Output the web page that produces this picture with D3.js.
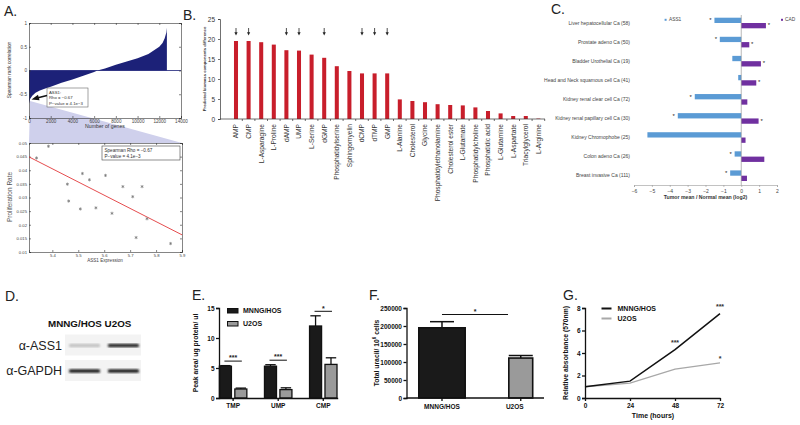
<!DOCTYPE html>
<html>
<head>
<meta charset="utf-8">
<script src="https://cdn.jsdelivr.net/npm/d3@7"></script>
<style>
  body { margin: 0; background: #fff; }
  text { font-family: "Liberation Sans", Arial, sans-serif; }
</style>
</head>
<body>
<svg id="fig" width="800" height="425"></svg>
<script>
//-- A (top): sorted spearman correlations across genes
const corrGenes = [0, 100, 300, 600, 1000, 1500, 2000, 3000, 4000, 5000, 6000, 6300, 7000, 8000, 9000, 10000, 11000, 12000, 12300, 12500, 12650, 12700];
const corrRho = [-0.7, -0.6, -0.53, -0.47, -0.42, -0.38, -0.34, -0.26, -0.19, -0.11, -0.03, 0, 0.04, 0.12, 0.19, 0.26, 0.35, 0.5, 0.58, 0.68, 0.8, 0.9];
//-- A (bottom): ASS1 expression vs proliferation
const ass1Expr = [5.339, 5.385, 5.458, 5.463, 5.508, 5.516, 5.543, 5.568, 5.605, 5.63, 5.672, 5.71, 5.723, 5.746, 5.765, 5.856];
const prolifRate = [0.0445, 0.0488, 0.0349, 0.0287, 0.0258, 0.0388, 0.0365, 0.0262, 0.0381, 0.0242, 0.034, 0.0303, 0.0153, 0.034, 0.0222, 0.0131];
const fitX = [5.31, 5.9];
const fitY = [0.0449, 0.0163];
//-- B
const metabolites = ["AMP", "CMP", "L-Asparagine", "L-Proline", "dAMP", "UMP", "L-Serine", "dGMP", "Phosphatidylserine", "Sphingomyelin", "dCMP", "dTMP", "GMP", "L-Alanine", "Cholesterol", "Glycine", "Phosphatidylethanolamine", "Cholesterol ester", "L-Glutamate", "Phosphatidylcholine", "Phosphatidic acid", "L-Glutamine", "L-Aspartate", "Triacylglycerol", "L-Arginine"];
const biomassDiff = [19.5, 19.5, 19.2, 18.6, 17.2, 17.1, 16.1, 15.3, 13.2, 12.0, 11.4, 11.4, 11.4, 4.9, 4.5, 4.2, 3.7, 3.5, 3.4, 2.9, 2.0, 1.4, 0.75, 0.75, 0.1];
const arrowed = ["AMP", "CMP", "dAMP", "UMP", "dGMP", "dCMP", "dTMP", "GMP"];
//-- C
const tumors = ["Liver hepatocellular Ca (58)", "Prostate adeno Ca (50)", "Bladder Urothelial Ca (19)", "Head and Neck squamous cell Ca (41)", "Kidney renal clear cell Ca (72)", "Kidney renal papillary cell Ca (30)", "Kidney Chromophobe (25)", "Colon adeno Ca (26)", "Breast invasive Ca (111)"];
const ass1Log2 = [-1.5, -1.2, -0.5, -0.17, -2.6, -3.55, -5.25, -0.37, -0.62];
const cadLog2 = [1.38, 0.45, 1.1, 0.84, 0.34, 0.97, 0.24, 1.29, 0.32];
const ass1Sig = [1, 1, 0, 0, 1, 1, 0, 1, 1];
const cadSig = [1, 1, 1, 1, 0, 1, 0, 0, 0];
//-- D: western blot band intensity (0..1)
const blotLanes = ["MNNG/HOS", "U2OS"];
const blotRows = ["α-ASS1", "α-GAPDH"];
const bandLevel = [[0.25, 0.9], [0.95, 0.95]];
//-- E
const nucleotides = ["TMP", "UMP", "CMP"];
const cellLines = ["MNNG/HOS", "U2OS"];
const eMnng = [5.3, 5.3, 12.0];
const eMnngErr = [0.1, 0.25, 1.7];
const eU2os = [1.5, 1.4, 5.6];
const eU2osErr = [0.15, 0.3, 1.1];
const eSig = ["***", "***", "*"];
//-- F
const fUracil = [195000, 111000];
const fErr = [17000, 7000];
//-- G
const hours = [0, 24, 48, 72];
const gMnng = [1.0, 1.5, 4.3, 7.5];
const gU2os = [1.0, 1.33, 2.57, 3.12];
const gMnngSig = ["", "", "***", "***"];
const gU2osSig = ["", "", "", "*"];

const svg = d3.select("#fig");
const letter = (t, x, y) => svg.append("text").attr("x", x).attr("y", y)
  .attr("font-size", 14).attr("fill", "#222").text(t);

//-- style helper for thin matlab-like axes
function thinAxis(g, size) {
  g.selectAll("path, line").attr("stroke", "#333").attr("stroke-width", 0.6);
  g.selectAll("text").attr("font-size", size).attr("fill", "#444");
}
function boldAxis(g) {
  g.selectAll("path, line").attr("stroke", "#111").attr("stroke-width", 1.3);
  g.selectAll("text").attr("font-size", 6.5).attr("font-weight", "bold").attr("fill", "#111");
}

//==================== A ====================
letter("A.", 4, 16);
const xA = d3.scaleLinear().domain([0, 14000]).range([29, 181]);
const yA = d3.scaleLinear().domain([-1, 1]).range([118, 23]);
const xS = d3.scaleLinear().domain([5.31, 5.9]).range([29, 182]);
const yS = d3.scaleLinear().domain([0.01, 0.05]).range([252, 143]);

svg.append("rect").attr("x", 29).attr("y", 23).attr("width", 152).attr("height", 95).attr("fill", "#fff");
//-- zoom wedge
svg.append("path")
  .attr("d", `M${xA(100)},${yA(-0.64)} L${xS(5.31)},${yS(0.05)} L${xS(5.9)},${yS(0.05)} Z`)
  .attr("fill", "#cfd0ec");
svg.append("path")
  .datum(d3.zip(corrGenes, corrRho))
  .attr("d", d3.area().x(d => xA(d[0])).y0(yA(0)).y1(d => yA(d[1])))
  .attr("fill", "#1c2178");
svg.append("line").attr("x1", xA(0)).attr("x2", xA(14000)).attr("y1", yA(0)).attr("y2", yA(0))
  .attr("stroke", "#1c2178").attr("stroke-width", 0.8);

const ticksA = d3.range(0, 14001, 2000);
svg.append("g").attr("transform", "translate(0,118)")
  .call(d3.axisBottom(xA).tickValues(ticksA).tickSize(-2).tickPadding(2).tickFormat(d3.format("d")))
  .call(g => thinAxis(g, 4.6));
svg.append("g").attr("transform", "translate(0,23)")
  .call(d3.axisTop(xA).tickValues(ticksA).tickSize(-2).tickFormat(""))
  .call(g => thinAxis(g, 4.6));
svg.append("g").attr("transform", "translate(29,0)")
  .call(d3.axisLeft(yA).tickValues([-1, -0.5, 0, 0.5, 1]).tickSize(-2).tickPadding(2).tickFormat(d => d))
  .call(g => thinAxis(g, 4.6));
svg.append("g").attr("transform", "translate(181,0)")
  .call(d3.axisRight(yA).tickValues([-1, -0.5, 0, 0.5, 1]).tickSize(-2).tickFormat(""))
  .call(g => thinAxis(g, 4.6));
svg.append("text").attr("x", 105).attr("y", 128).attr("text-anchor", "middle")
  .attr("font-size", 5.2).attr("fill", "#333").text("Number of genes");
svg.append("text").attr("transform", "translate(11,70) rotate(-90)").attr("text-anchor", "middle")
  .attr("font-size", 4.8).attr("fill", "#333").text("Spearman rank correlation");

//-- ASS1 annotation
svg.append("rect").attr("x", 47).attr("y", 88).attr("width", 41).attr("height", 19)
  .attr("fill", "#fff").attr("stroke", "#666").attr("stroke-width", 0.6);
["ASS1:", "Rho = \u22120.67", "P\u2212value = 4.1e\u22123"].forEach((t, i) =>
  svg.append("text").attr("x", 49).attr("y", 93.5 + i * 5.6).attr("font-size", 4.3).attr("fill", "#333").text(t));
svg.append("line").attr("x1", 47).attr("y1", 95.5).attr("x2", 37).attr("y2", 98)
  .attr("stroke", "#111").attr("stroke-width", 1.3);
svg.append("path").attr("d", "M31.5,99.5 L38,94.8 L39.5,100.2 Z").attr("fill", "#111");

//-- scatter
svg.append("rect").attr("x", 29).attr("y", 143).attr("width", 153).attr("height", 109)
  .attr("fill", "#fff");
const ticksSx = [5.4, 5.5, 5.6, 5.7, 5.8, 5.9];
const ticksSy = d3.range(0.01, 0.0501, 0.005);
svg.append("g").attr("transform", "translate(0,252)")
  .call(d3.axisBottom(xS).tickValues(ticksSx).tickSize(-2).tickPadding(2).tickFormat(d3.format(".1f")))
  .call(g => thinAxis(g, 4.2));
svg.append("g").attr("transform", "translate(0,143)")
  .call(d3.axisTop(xS).tickValues(ticksSx).tickSize(-2).tickFormat(""))
  .call(g => thinAxis(g, 4.2));
svg.append("g").attr("transform", "translate(29,0)")
  .call(d3.axisLeft(yS).tickValues(ticksSy).tickSize(-2).tickPadding(2).tickFormat(d => +d.toFixed(3)))
  .call(g => thinAxis(g, 4.2));
svg.append("g").attr("transform", "translate(182,0)")
  .call(d3.axisRight(yS).tickValues(ticksSy).tickSize(-2).tickFormat(""))
  .call(g => thinAxis(g, 4.2));
svg.append("line").attr("x1", xS(fitX[0])).attr("y1", yS(fitY[0]))
  .attr("x2", xS(fitX[1])).attr("y2", yS(fitY[1]))
  .attr("stroke", "#e2383a").attr("stroke-width", 0.9);
svg.append("g").selectAll("path").data(d3.zip(ass1Expr, prolifRate)).join("path")
  .attr("transform", d => `translate(${xS(d[0])},${yS(d[1])})`)
  .attr("d", d3.symbol(d3.symbolAsterisk, 7))
  .attr("fill", "none").attr("stroke", "#777").attr("stroke-width", 0.7);
svg.append("rect").attr("x", 102).attr("y", 146).attr("width", 78).attr("height", 14)
  .attr("fill", "#fff").attr("stroke", "#444").attr("stroke-width", 0.6);
svg.append("text").attr("x", 104.5).attr("y", 152).attr("font-size", 4.6).attr("fill", "#333").text("Spearman Rho = \u22120.67");
svg.append("text").attr("x", 104.5).attr("y", 158).attr("font-size", 4.6).attr("fill", "#333").text("P\u2212value = 4.1e\u22123");
svg.append("text").attr("x", 105).attr("y", 262).attr("text-anchor", "middle")
  .attr("font-size", 4.6).attr("fill", "#444").text("ASS1 Expression");
svg.append("text").attr("transform", "translate(11.5,197) rotate(-90)").attr("text-anchor", "middle")
  .attr("font-size", 6.5).attr("fill", "#555").text("Proliferation Rate");

//==================== B ====================
letter("B.", 183, 20);
const xB = d3.scaleBand().domain(metabolites).range([229.7, 544.7]).paddingInner(0.68).paddingOuter(0.34);
const yB = d3.scaleLinear().domain([0, 25]).range([119, 19]);
svg.append("g").selectAll("rect").data(metabolites).join("rect")
  .attr("x", d => xB(d)).attr("width", xB.bandwidth())
  .attr("y", (d, i) => yB(biomassDiff[i])).attr("height", (d, i) => yB(0) - yB(biomassDiff[i]))
  .attr("fill", "#c81e2b");
svg.append("g").attr("transform", "translate(220,0)")
  .call(d3.axisLeft(yB).tickValues([0, 5, 10, 15, 20, 25]).tickSize(2).tickPadding(3))
  .call(g => { g.selectAll("path, line").attr("stroke", "#333").attr("stroke-width", 0.7);
               g.selectAll("text").attr("font-size", 6.5).attr("fill", "#333"); });
const xBaxis = svg.append("g").attr("transform", "translate(0,119)");
xBaxis.append("line").attr("x1", 220).attr("x2", 545).attr("stroke", "#333").attr("stroke-width", 0.7);
xBaxis.selectAll("line.tk").data(metabolites).join("line").attr("class", "tk")
  .attr("x1", d => xB(d) + xB.bandwidth() / 2 + xB.step() / 2).attr("x2", d => xB(d) + xB.bandwidth() / 2 + xB.step() / 2)
  .attr("y1", 0).attr("y2", 2).attr("stroke", "#333").attr("stroke-width", 0.7);
xBaxis.selectAll("text").data(metabolites).join("text")
  .attr("transform", d => `translate(${xB(d) + xB.bandwidth() / 2 + 2.3},5) rotate(-90)`)
  .attr("text-anchor", "end").attr("font-size", 6.6).attr("fill", "#333").text(d => d);
svg.append("g").selectAll("g").data(arrowed).join("g")
  .attr("transform", d => `translate(${xB(d) + xB.bandwidth() / 2},0)`)
  .each(function () {
    const g = d3.select(this);
    g.append("line").attr("y1", 28).attr("y2", 33).attr("stroke", "#222").attr("stroke-width", 0.8);
    g.append("path").attr("d", "M-1.6,32.2 L1.6,32.2 L0,35.5 Z").attr("fill", "#222");
  });
svg.append("text").attr("transform", "translate(206,69) rotate(-90)").attr("text-anchor", "middle")
  .attr("font-size", 4.2).attr("font-weight", "bold").attr("fill", "#333")
  .text("Predicted biomass components difference");

//==================== C ====================
letter("C.", 551, 14);
const xC = d3.scaleLinear().domain([-6, 2]).range([634, 777]);
const yC = d3.scalePoint().domain(tumors).range([23, 175.7]);
const hC = 5.3;
svg.append("g").selectAll("rect").data(tumors).join("rect")
  .attr("x", (d, i) => xC(ass1Log2[i])).attr("width", (d, i) => xC(0) - xC(ass1Log2[i]))
  .attr("y", d => yC(d) - hC).attr("height", hC).attr("fill", "#5b9bd5");
svg.append("g").selectAll("rect").data(tumors).join("rect")
  .attr("x", xC(0)).attr("width", (d, i) => xC(cadLog2[i]) - xC(0))
  .attr("y", d => yC(d)).attr("height", hC).attr("fill", "#7030a0");
svg.append("g").selectAll("text").data(tumors.filter((d, i) => ass1Sig[i])).join("text")
  .attr("x", d => xC(ass1Log2[tumors.indexOf(d)]) - 4).attr("y", d => yC(d) - 0.8)
  .attr("text-anchor", "middle").attr("font-size", 6).attr("fill", "#222").text("*");
svg.append("g").selectAll("text").data(tumors.filter((d, i) => cadSig[i])).join("text")
  .attr("x", d => xC(cadLog2[tumors.indexOf(d)]) + 3).attr("y", d => yC(d) + 4.2)
  .attr("text-anchor", "middle").attr("font-size", 6).attr("fill", "#222").text("*");
svg.append("line").attr("x1", xC(0)).attr("x2", xC(0)).attr("y1", 15).attr("y2", 185)
  .attr("stroke", "#888").attr("stroke-width", 0.6);
svg.append("g").attr("transform", "translate(0,185)")
  .call(d3.axisBottom(xC).ticks(8).tickSize(2).tickPadding(2))
  .call(g => thinAxis(g, 5))
  .call(g => g.selectAll("path, line").attr("stroke", "#999"));
svg.append("g").selectAll("text").data(tumors).join("text")
  .attr("x", 630).attr("y", d => yC(d) + 1.7).attr("text-anchor", "end")
  .attr("font-size", 5).attr("fill", "#444").text(d => d);
svg.append("text").attr("x", 705.5).attr("y", 199).attr("text-anchor", "middle")
  .attr("font-size", 5.2).attr("font-weight", "bold").attr("fill", "#333").text("Tumor mean / Normal mean (log2)");
svg.append("rect").attr("x", 664.6).attr("y", 18.8).attr("width", 2).attr("height", 2).attr("fill", "#5b9bd5");
svg.append("text").attr("x", 669).attr("y", 21.4).attr("font-size", 4.8).attr("fill", "#444").text("ASS1");
svg.append("rect").attr("x", 781).attr("y", 18.8).attr("width", 2).attr("height", 2).attr("fill", "#7030a0");
svg.append("text").attr("x", 785).attr("y", 21.4).attr("font-size", 4.8).attr("fill", "#444").text("CAD");

//==================== D ====================
letter("D.", 5, 301);
const xD = d3.scaleBand().domain(blotLanes).range([69, 139]).paddingInner(0.2);
const yD = d3.scalePoint().domain(blotRows).range([345.5, 371]);
const defs = svg.append("defs");
defs.append("filter").attr("id", "blur").append("feGaussianBlur").attr("stdDeviation", 0.9);
blotRows.forEach((r, ri) => {
  svg.append("rect").attr("x", 65).attr("y", yD(r) - 11).attr("width", 76).attr("height", 21)
    .attr("fill", "#f3f3f3");
  blotLanes.forEach((l, li) => {
    const v = bandLevel[ri][li];
    svg.append("rect").attr("x", xD(l)).attr("y", yD(r) - 1.8).attr("width", xD.bandwidth()).attr("height", 3.6)
      .attr("rx", 1.5).attr("fill", d3.interpolateGreys(0.15 + v * 0.8)).attr("filter", "url(#blur)");
  });
});
svg.append("text").attr("x", 48).attr("y", 326.5).attr("font-size", 9.8).attr("font-weight", "bold")
  .attr("fill", "#111").text("MNNG/HOS U2OS");
blotRows.forEach(r => svg.append("text").attr("x", 62).attr("y", yD(r) + 4.3).attr("text-anchor", "end")
  .attr("font-size", 12.5).attr("fill", "#222").text(r));

//==================== E ====================
letter("E.", 192, 300);
const xE = d3.scaleBand().domain(nucleotides).range([218.7, 337.7]).paddingInner(0.36).paddingOuter(0);
const xE2 = d3.scaleBand().domain(cellLines).range([0, xE.bandwidth()]).paddingInner(0.13);
const yE = d3.scaleLinear().domain([0, 15]).range([398, 308]);
const eSeries = [[eMnng, eMnngErr, "#1a1a1a"], [eU2os, eU2osErr, "#9a9a9a"]];
eSeries.forEach(([vals, errs, col], si) => {
  const line = cellLines[si];
  const g = svg.append("g");
  g.selectAll("line").data(nucleotides).join("line")
    .attr("x1", d => xE(d) + xE2(line) + xE2.bandwidth() / 2).attr("x2", d => xE(d) + xE2(line) + xE2.bandwidth() / 2)
    .attr("y1", (d, i) => yE(vals[i])).attr("y2", (d, i) => yE(vals[i] + errs[i]))
    .attr("stroke", "#111").attr("stroke-width", 1.3);
  g.selectAll("line.cap").data(nucleotides).join("line").attr("class", "cap")
    .attr("x1", d => xE(d) + xE2(line) + 1.5).attr("x2", d => xE(d) + xE2(line) + xE2.bandwidth() - 1.5)
    .attr("y1", (d, i) => yE(vals[i] + errs[i])).attr("y2", (d, i) => yE(vals[i] + errs[i]))
    .attr("stroke", "#111").attr("stroke-width", 1.3);
  g.selectAll("rect").data(nucleotides).join("rect")
    .attr("x", d => xE(d) + xE2(line) + 0.7).attr("width", xE2.bandwidth() - 1.4)
    .attr("y", (d, i) => yE(vals[i])).attr("height", (d, i) => yE(0) - yE(vals[i]))
    .attr("fill", col).attr("stroke", "#111").attr("stroke-width", 1.3);
});
svg.append("g").attr("transform", "translate(219,0)")
  .call(d3.axisLeft(yE).tickValues([0, 5, 10, 15]).tickSize(3).tickPadding(1.5))
  .call(boldAxis);
svg.append("g").attr("transform", "translate(0,398)")
  .call(d3.axisBottom(xE).tickSize(3).tickPadding(2).tickSizeOuter(0))
  .call(boldAxis);
svg.selectAll(null).data(nucleotides).join("g").each(function (d, i) {
  const g = d3.select(this);
  const top = Math.max(eMnng[i] + eMnngErr[i], eU2os[i] + eU2osErr[i]);
  const yl = yE(top) - 4.5;
  const x1 = xE(d) + xE2("MNNG/HOS") + xE2.bandwidth() / 2 - 1;
  const x2 = xE(d) + xE2("U2OS") + xE2.bandwidth() / 2 + 1;
  g.append("line").attr("x1", x1).attr("x2", x2).attr("y1", yl).attr("y2", yl)
    .attr("stroke", "#111").attr("stroke-width", 1);
  g.append("text").attr("x", (x1 + x2) / 2).attr("y", yl - 0.8).attr("text-anchor", "middle")
    .attr("font-size", 7).attr("font-weight", "bold").attr("fill", "#222").text(eSig[i]);
});
cellLines.forEach((l, i) => {
  svg.append("rect").attr("x", 227.5).attr("y", 308.5 + i * 13).attr("width", 10.5).attr("height", 4.5)
    .attr("fill", eSeries[i][2]).attr("stroke", "#111").attr("stroke-width", 1);
  svg.append("text").attr("x", 243).attr("y", 313.3 + i * 13).attr("font-size", 7)
    .attr("font-weight", "bold").attr("fill", "#111").text(l);
});
svg.append("text").attr("transform", "translate(198,353) rotate(-90)").attr("text-anchor", "middle")
  .attr("font-size", 6.8).attr("font-weight", "bold").attr("fill", "#111").text("Peak area/ ug protein/ ul");

//==================== F ====================
letter("F.", 369, 300);
const xF = d3.scaleBand().domain(cellLines).range([418, 556]).paddingInner(0.467).paddingOuter(0);
const yF = d3.scaleLinear().domain([0, 250000]).range([398, 308]);
const fRight = 533.5; //-- the original figure is cropped here
const fW = d => Math.min(xF.bandwidth(), fRight - xF(d));
svg.append("g").selectAll("line").data(cellLines).join("line")
  .attr("x1", d => xF(d) + fW(d) / 2).attr("x2", d => xF(d) + fW(d) / 2)
  .attr("y1", (d, i) => yF(fUracil[i])).attr("y2", (d, i) => yF(fUracil[i] + fErr[i]))
  .attr("stroke", "#111").attr("stroke-width", 1.5);
svg.append("g").selectAll("line").data(cellLines).join("line")
  .attr("x1", d => xF(d) + fW(d) / 2 - 12).attr("x2", d => xF(d) + fW(d) / 2 + 12)
  .attr("y1", (d, i) => yF(fUracil[i] + fErr[i])).attr("y2", (d, i) => yF(fUracil[i] + fErr[i]))
  .attr("stroke", "#111").attr("stroke-width", 1.5);
svg.append("g").selectAll("rect").data(cellLines).join("rect")
  .attr("x", d => xF(d) + 0.8).attr("width", d => fW(d) - 1.6)
  .attr("y", (d, i) => yF(fUracil[i])).attr("height", (d, i) => yF(0) - yF(fUracil[i]))
  .attr("fill", (d, i) => eSeries[i][2]).attr("stroke", "#111").attr("stroke-width", 1.6);
svg.append("g").attr("transform", "translate(406.5,0)")
  .call(d3.axisLeft(yF).tickValues(d3.range(0, 250001, 50000)).tickSize(3).tickPadding(1.5).tickFormat(d3.format("d")))
  .call(boldAxis);
const xFaxis = svg.append("g").attr("transform", "translate(0,398)");
xFaxis.append("line").attr("x1", 406.5).attr("x2", 544).attr("stroke", "#111").attr("stroke-width", 1.3);
xFaxis.selectAll("line.tk").data(cellLines).join("line").attr("class", "tk")
  .attr("x1", d => xF(d) + fW(d) / 2).attr("x2", d => xF(d) + fW(d) / 2).attr("y1", 0).attr("y2", 3)
  .attr("stroke", "#111").attr("stroke-width", 1.3);
xFaxis.selectAll("text").data(cellLines).join("text")
  .attr("x", (d, i) => xF(d) + fW(d) / 2 - i * 6).attr("y", 10.5).attr("text-anchor", "middle")
  .attr("font-size", 6.5).attr("font-weight", "bold").attr("fill", "#111").text(d => d);
svg.append("line").attr("x1", xF("MNNG/HOS") + fW("MNNG/HOS") / 2).attr("x2", xF("U2OS"))
  .attr("y1", 314.5).attr("y2", 314.5).attr("stroke", "#111").attr("stroke-width", 1);
svg.append("text").attr("x", (xF("MNNG/HOS") + fW("MNNG/HOS") / 2 + xF("U2OS")) / 2).attr("y", 313.5)
  .attr("text-anchor", "middle").attr("font-size", 7).attr("font-weight", "bold").attr("fill", "#222").text("*");
const fl = svg.append("text").attr("transform", "translate(378.5,353) rotate(-90)").attr("text-anchor", "middle")
  .attr("font-size", 6.8).attr("font-weight", "bold").attr("fill", "#111");
fl.append("tspan").text("Total uracil/ 10");
fl.append("tspan").attr("font-size", 4.5).attr("dy", -2.5).text("6");
fl.append("tspan").attr("dy", 2.5).text(" cells");

//==================== G ====================
letter("G.", 563, 300);
const xG = d3.scaleLinear().domain([0, 72]).range([585, 720]);
const yG = d3.scaleLinear().domain([0, 8]).range([398, 308]);
const lineG = d3.line().x((d, i) => xG(hours[i])).y(d => yG(d));
svg.append("path").datum(gU2os).attr("d", lineG).attr("fill", "none")
  .attr("stroke", "#a8a8a8").attr("stroke-width", 1.3);
svg.append("path").datum(gMnng).attr("d", lineG).attr("fill", "none")
  .attr("stroke", "#111").attr("stroke-width", 1.5);
svg.append("g").attr("transform", "translate(585,0)")
  .call(d3.axisLeft(yG).tickValues([0, 2, 4, 6, 8]).tickSize(3).tickPadding(1.5))
  .call(boldAxis);
svg.append("g").attr("transform", "translate(0,398)")
  .call(d3.axisBottom(xG).tickValues(hours).tickSize(3).tickPadding(2).tickSizeOuter(0))
  .call(boldAxis);
svg.append("g").selectAll("text").data(hours).join("text")
  .attr("x", d => xG(d)).attr("y", (d, i) => yG(gMnng[i]) - 4.5).attr("text-anchor", "middle")
  .attr("font-size", 7).attr("font-weight", "bold").attr("fill", "#333").text((d, i) => gMnngSig[i]);
svg.append("g").selectAll("text").data(hours).join("text")
  .attr("x", d => xG(d)).attr("y", (d, i) => yG(gU2os[i]) - 1.5).attr("text-anchor", "middle")
  .attr("font-size", 7).attr("font-weight", "bold").attr("fill", "#333").text((d, i) => gU2osSig[i]);
[["MNNG/HOS", "#111"], ["U2OS", "#a8a8a8"]].forEach(([l, c], i) => {
  svg.append("line").attr("x1", 601.5).attr("x2", 611.5).attr("y1", 308.5 + i * 10).attr("y2", 308.5 + i * 10)
    .attr("stroke", c).attr("stroke-width", 2);
  svg.append("text").attr("x", 617.5).attr("y", 311 + i * 10).attr("font-size", 7)
    .attr("font-weight", "bold").attr("fill", "#111").text(l);
});
svg.append("text").attr("x", 653).attr("y", 418).attr("text-anchor", "middle")
  .attr("font-size", 7).attr("font-weight", "bold").attr("fill", "#111").text("Time (hours)");
svg.append("text").attr("transform", "translate(568,353) rotate(-90)").attr("text-anchor", "middle")
  .attr("font-size", 6.8).attr("font-weight", "bold").attr("fill", "#111").text("Relative absorbance (570nm)");
</script>
</body>
</html>
